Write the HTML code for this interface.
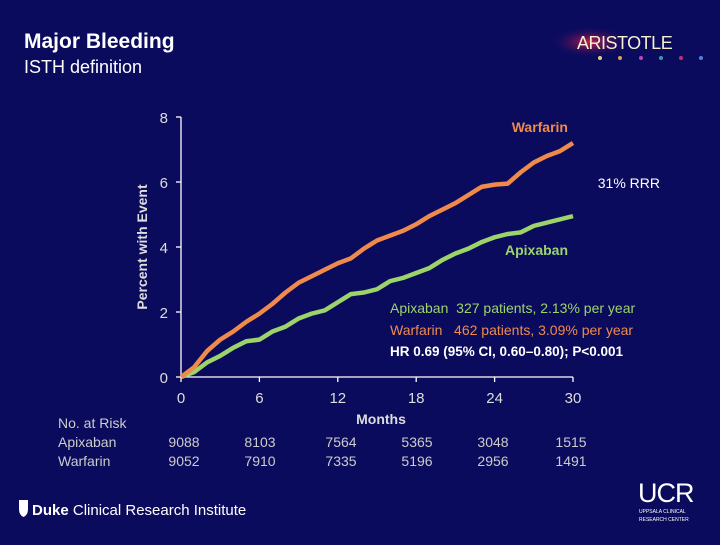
<!DOCTYPE html>
<html><head><meta charset="utf-8"><style>
html,body{margin:0;padding:0;background:#0b0b5e;}
body{width:720px;height:540px;overflow:hidden;font-family:"Liberation Sans",sans-serif;}
text{white-space:pre;}
</style></head><body>
<svg id="chart" width="720" height="540" viewBox="0 0 720 540" xmlns="http://www.w3.org/2000/svg">
<defs><radialGradient id="glow" cx="0.5" cy="0.5" r="0.5"><stop offset="0" stop-color="#d8204a" stop-opacity="0.95"/><stop offset="1" stop-color="#0b0b5e" stop-opacity="0"/></radialGradient></defs>
<rect width="720" height="540" fill="#0b0b5e"/>
<text x="24" y="48" font-size="21" font-weight="bold" fill="#fff">Major Bleeding</text>
<text x="24" y="73" font-size="18" fill="#fff">ISTH definition</text>
<g>
<ellipse cx="590" cy="42" rx="40" ry="16" fill="url(#glow)"/>
<text x="577" y="49" font-size="18" fill="#f4f0d0" letter-spacing="-0.5">ARISTOTLE</text>
<circle cx="600" cy="58" r="2" fill="#e6d080"/><circle cx="620" cy="58" r="2" fill="#e0a050"/><circle cx="641" cy="58" r="2" fill="#c040c0"/><circle cx="661" cy="58" r="2" fill="#30a0a0"/><circle cx="681" cy="58" r="2" fill="#c03070"/><circle cx="701" cy="58" r="2" fill="#5080e0"/>
</g>
<g id="axes"></g>
<g id="series"></g>
<text transform="translate(147,247) rotate(-90)" text-anchor="middle" font-size="14" font-weight="bold" fill="#ddd">Percent with Event</text>
<text x="381" y="424" text-anchor="middle" font-size="14" font-weight="bold" fill="#ddd">Months</text>
<text x="568" y="132" text-anchor="end" font-size="14" font-weight="bold" fill="#f08a4a">Warfarin</text>
<text x="568" y="255" text-anchor="end" font-size="14" font-weight="bold" fill="#9cd46a">Apixaban</text>
<text x="660" y="188" text-anchor="end" font-size="14" fill="#fff">31% RRR</text>
<text x="390" y="313" font-size="14" fill="#9cd46a">Apixaban  327 patients, 2.13% per year</text>
<text x="390" y="335" font-size="14" fill="#f08a4a">Warfarin   462 patients, 3.09% per year</text>
<text x="390" y="356" font-size="13.5" font-weight="bold" fill="#fff">HR 0.69 (95% CI, 0.60–0.80); P&lt;0.001</text>
<g font-size="14" fill="#ccc">
<text x="58" y="428">No. at Risk</text>
<text x="58" y="447">Apixaban</text>
<text x="58" y="466">Warfarin</text>
</g>
<g id="risk" font-size="14" fill="#ccc"></g>
<g>
<path d="M19 500 h9 v9 q0 6 -4.5 8 q-4.5 -2 -4.5 -8z" fill="#fff"/>
<text x="32" y="515" font-size="15" fill="#fff"><tspan font-weight="bold">Duke</tspan> Clinical Research Institute</text>
</g>
<g fill="#fff">
<text x="638" y="502" font-size="27" letter-spacing="-1">UCR</text>
<text x="639" y="513" font-size="5">UPPSALA CLINICAL</text>
<text x="639" y="521" font-size="5">RESEARCH CENTER</text>
</g>
</svg>
<script>
const months=[0,1,2,3,4,5,6,7,8,9,10,11,12,13,14,15,16,17,18,19,20,21,22,23,24,25,26,27,28,29,30];
const warfarin=[0,0.3,0.8,1.15,1.4,1.7,1.95,2.25,2.6,2.9,3.1,3.3,3.5,3.65,3.95,4.2,4.35,4.5,4.7,4.95,5.15,5.35,5.6,5.85,5.92,5.95,6.3,6.6,6.8,6.95,7.2];
const apixaban=[0,0.15,0.45,0.65,0.9,1.1,1.15,1.4,1.55,1.8,1.95,2.05,2.3,2.55,2.6,2.7,2.95,3.05,3.2,3.35,3.6,3.8,3.95,4.15,4.3,4.4,4.45,4.65,4.75,4.85,4.95];
const xTicks=[0,6,12,18,24,30];
const yTicks=[0,2,4,6,8];
const riskApixaban=["9088","8103","7564","5365","3048","1515"];
const riskWarfarin=["9052","7910","7335","5196","2956","1491"];
const NS="http://www.w3.org/2000/svg";
const X=m=>181+m*(573-181)/30;
const Y=v=>377-v*(377-117)/8;
function mk(tag,attrs,parent){const e=document.createElementNS(NS,tag);for(const k in attrs)e.setAttribute(k,attrs[k]);parent.appendChild(e);return e;}
const ax=document.getElementById('axes');
const xa=mk('line',{x1:X(0),y1:Y(0),x2:X(30),y2:Y(0),stroke:'#fff','stroke-width':1.3},ax);


const ya=mk('line',{x1:X(0),y1:Y(0),x2:X(0),y2:Y(8),stroke:'#fff','stroke-width':1.3},ax);


xTicks.forEach(t=>{
 mk('line',{x1:X(t),y1:Y(0),x2:X(t),y2:Y(0)+5,stroke:'#fff','stroke-width':1.3},ax);
 const tx=mk('text',{x:X(t),y:403,'text-anchor':'middle','font-size':15,fill:'#ddd'},ax);
 tx.textContent=t;
 
 
});
yTicks.forEach(t=>{
 mk('line',{x1:X(0)-5,y1:Y(t),x2:X(0),y2:Y(t),stroke:'#fff','stroke-width':1.3},ax);
 const tx=mk('text',{x:168,y:Y(t)+6,'text-anchor':'end','font-size':15,fill:'#ddd'},ax);
 tx.textContent=t;
 
 
});
function stepPath(vals){let d='M'+X(months[0])+','+Y(vals[0]);
 for(let i=1;i<months.length;i++){const xm=(months[i-1]+months[i])/2;
  d+=' L'+X(xm)+','+Y(vals[i-1]+(vals[i]-vals[i-1])*0.5)+' L'+X(months[i])+','+Y(vals[i]);}
 return d;}
const sg=document.getElementById('series');
const pa=mk('path',{d:stepPath(apixaban),fill:'none',stroke:'#9cd46a','stroke-width':4.5,'stroke-linejoin':'round'},sg);


const pw=mk('path',{d:stepPath(warfarin),fill:'none',stroke:'#f08a4a','stroke-width':4.5,'stroke-linejoin':'round'},sg);


const rg=document.getElementById('risk');
const riskX=[184,260,341,417,493,571];
riskApixaban.forEach((v,i)=>{const t=mk('text',{x:riskX[i],y:447,'text-anchor':'middle'},rg);t.textContent=v;
 
 });
riskWarfarin.forEach((v,i)=>{const t=mk('text',{x:riskX[i],y:466,'text-anchor':'middle'},rg);t.textContent=v;
 
 });
</script>
</body></html>
